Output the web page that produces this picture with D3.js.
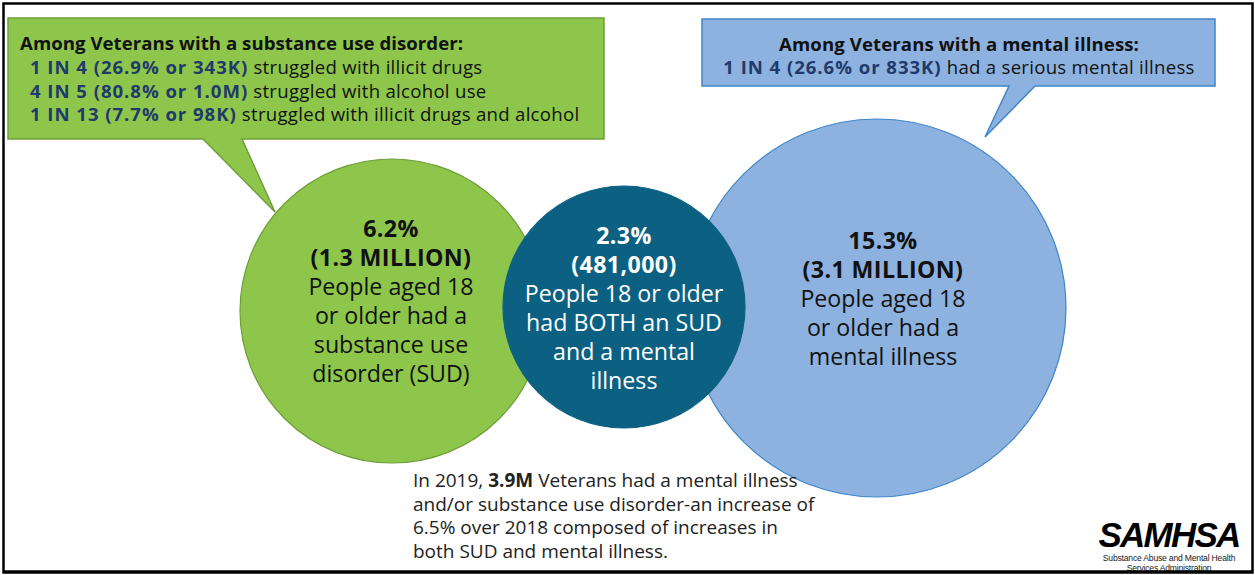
<!DOCTYPE html>
<html>
<head>
<meta charset="utf-8">
<script src="https://cdn.jsdelivr.net/npm/d3@7"></script>
<style>
  html, body { margin: 0; padding: 0; background: #fff; }
  svg { display: block; font-family: "Open Sans", "Noto Sans", sans-serif; }
</style>
</head>
<body>
<svg id="chart" width="1255" height="575"></svg>
<script>
// ---- data ----
const groups = ["SUD", "BOTH", "MI"];
const percents = [6.2, 2.3, 15.3];
const counts = ["1.3 MILLION", "481,000", "3.1 MILLION"];
const descriptions = [
  ["People aged 18", "or older had a", "substance use", "disorder (SUD)"],
  ["People 18 or older", "had BOTH an SUD", "and a mental", "illness"],
  ["People aged 18", "or older had a", "mental illness"]
];

const sudTitle = "Among Veterans with a substance use disorder:";
const sudRatios = ["1 IN 4", "4 IN 5", "1 IN 13"];
const sudShares = [26.9, 80.8, 7.7];
const sudCounts = ["343K", "1.0M", "98K"];
const sudWhat = ["struggled with illicit drugs", "struggled with alcohol use", "struggled with illicit drugs and alcohol"];

const miTitle = "Among Veterans with a mental illness:";
const miRatios = ["1 IN 4"];
const miShares = [26.6];
const miCounts = ["833K"];
const miWhat = ["had a serious mental illness"];

const noteLines = [
  [["In 2019, ", false], ["3.9M", true], [" Veterans had a mental illness", false]],
  [["and/or substance use disorder-an increase of", false]],
  [["6.5% over 2018 composed of increases in", false]],
  [["both SUD and mental illness.", false]]
];

// ---- layout ----
const W = 1255, H = 575;
const svg = d3.select("#chart");

const circleLayout = {
  SUD:  { cx: 392, cy: 311, r: 152, tx: 391, fill: "#8dc64a", stroke: "#6f9e3a", text: "#111", top: 229 },
  BOTH: { cx: 624, cy: 307, r: 121, tx: 624, fill: "#0c6182", stroke: "#0c6182", text: "#fff", top: 236 },
  MI:   { cx: 877, cy: 308, r: 189, tx: 883, fill: "#8db2df", stroke: "#3f86c9", text: "#111", top: 241 }
};
const drawOrder = ["SUD", "MI", "BOTH"];
const lineGap = 29;

// outer frame
svg.append("rect")
  .attr("x", 3.5).attr("y", 3.5).attr("width", W - 6).attr("height", H - 6)
  .attr("fill", "#fff").attr("stroke", "#000").attr("stroke-width", 2.5);

// callout boxes with pointers
function callout(box, tail, fill, stroke) {
  const p = d3.path();
  p.moveTo(box.x, box.y);
  p.lineTo(box.x + box.w, box.y);
  p.lineTo(box.x + box.w, box.y + box.h);
  p.lineTo(tail.b2, box.y + box.h);
  p.lineTo(tail.tx, tail.ty);
  p.lineTo(tail.b1, box.y + box.h);
  p.lineTo(box.x, box.y + box.h);
  p.closePath();
  svg.append("path").attr("d", p.toString())
    .attr("fill", fill).attr("stroke", stroke).attr("stroke-width", 1.5)
    .attr("stroke-linejoin", "miter");
}
callout({ x: 8, y: 18, w: 596, h: 121 }, { b1: 203, b2: 242, tx: 275, ty: 212 }, "#8dc64a", "#6f9e3a");
callout({ x: 702, y: 19, w: 513, h: 67 }, { b1: 1009, b2: 1035, tx: 985, ty: 137 }, "#8db2df", "#3f86c9");

// circles
const nodes = drawOrder.map(k => ({ key: k, i: groups.indexOf(k), ...circleLayout[k] }));
svg.selectAll("circle.grp").data(nodes).join("circle")
  .attr("class", "grp")
  .attr("cx", d => d.cx).attr("cy", d => d.cy).attr("r", d => d.r)
  .attr("fill", d => d.fill).attr("stroke", d => d.stroke).attr("stroke-width", 1.2);

// circle labels
const fmtPct = d => d3.format(".1f")(d) + "%";
nodes.forEach(d => {
  const g = svg.append("text").attr("text-anchor", "middle").attr("fill", d.text)
    .attr("font-size", 23.2);
  const lines = [
    [fmtPct(percents[d.i]), 700],
    ["(" + counts[d.i] + ")", 700],
    ...descriptions[d.i].map(s => [s, 400])
  ];
  lines.forEach((ln, j) => {
    g.append("tspan").attr("x", d.tx).attr("y", d.top + 8 + j * lineGap)
      .attr("font-weight", ln[1])
      .attr("letter-spacing", ln[1] === 700 ? 0.4 : 0)
      .text(ln[0]);
  });
});

// callout texts
const navy = "#1f3a6b";
function statLines(x, y0, gap, anchor, ratios, shares, cnts, what, size) {
  ratios.forEach((r, j) => {
    const t = svg.append("text").attr("x", x).attr("y", y0 + j * gap)
      .attr("font-size", size).attr("text-anchor", anchor).attr("fill", "#111");
    t.append("tspan").attr("font-weight", 700).attr("fill", navy)
      .attr("letter-spacing", 0.95)
      .text(`${r} (${d3.format(".1f")(shares[j])}% or ${cnts[j]})`);
    t.append("tspan").attr("letter-spacing", 0.28).text(" " + what[j]);
  });
}
svg.append("text").attr("x", 20).attr("y", 50).attr("font-size", 18.6)
  .attr("letter-spacing", 0.05)
  .attr("font-weight", 700).attr("fill", "#111").text(sudTitle);
statLines(30, 74, 23.5, "start", sudRatios, sudShares, sudCounts, sudWhat, 18.6);

svg.append("text").attr("x", 959).attr("y", 51).attr("font-size", 18.6)
  .attr("letter-spacing", 0.1)
  .attr("text-anchor", "middle").attr("font-weight", 700).attr("fill", "#111").text(miTitle);
statLines(959, 74, 23.5, "middle", miRatios, miShares, miCounts, miWhat, 18.6);

// footnote
noteLines.forEach((ln, j) => {
  const t = svg.append("text").attr("x", 413).attr("y", 487 + j * 23.7)
    .attr("font-size", 19).attr("fill", "#222");
  ln.forEach(seg => t.append("tspan").attr("font-weight", seg[1] ? 700 : 400).text(seg[0]));
});

// agency mark
svg.append("text").attr("x", 1169).attr("y", 547).attr("text-anchor", "middle")
  .attr("font-family", "'Liberation Sans', Arial, sans-serif")
  .attr("font-size", 35).attr("font-weight", 700).attr("font-style", "italic")
  .attr("letter-spacing", -1.8).attr("fill", "#000").text("SAMHSA");
svg.append("text").attr("x", 1169).attr("y", 561).attr("text-anchor", "middle")
  .attr("font-family", "'Liberation Sans Narrow', 'Liberation Sans', sans-serif")
  .attr("font-size", 8.6).attr("letter-spacing", -0.2).attr("fill", "#222")
  .text("Substance Abuse and Mental Health");
svg.append("text").attr("x", 1169).attr("y", 571).attr("text-anchor", "middle")
  .attr("font-family", "'Liberation Sans Narrow', 'Liberation Sans', sans-serif")
  .attr("font-size", 8.6).attr("letter-spacing", -0.2).attr("fill", "#222")
  .text("Services Administration");

// redraw bottom edge of frame over the clipped caption
svg.append("line").attr("x1", 3).attr("x2", W - 3).attr("y1", H - 3.5).attr("y2", H - 3.5)
  .attr("stroke", "#000").attr("stroke-width", 2.5);
</script>
</body>
</html>
